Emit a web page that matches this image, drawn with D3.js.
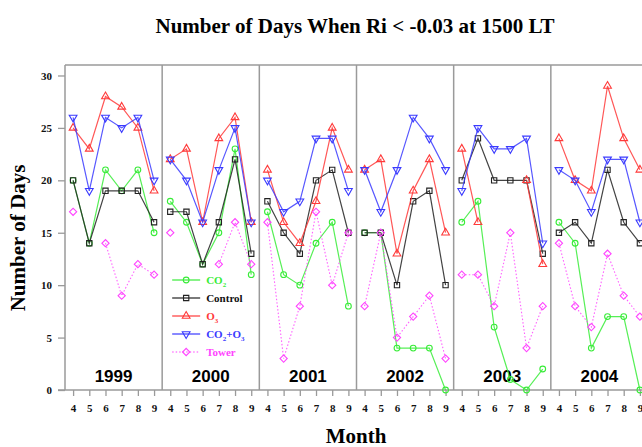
<!DOCTYPE html>
<html>
<head>
<meta charset="utf-8">
<script src="https://cdn.jsdelivr.net/npm/d3@7"></script>
<style>
  body { margin: 0; background: #fff; }
  svg { display: block; }
</style>
</head>
<body>
<svg id="chart" width="642" height="447"></svg>
<script>
// data, one value per month (4..9) per year
const years = ["1999", "2000", "2001", "2002", "2003", "2004"];
const months = [4, 5, 6, 7, 8, 9];
const yTicks = [0, 5, 10, 15, 20, 25, 30];

const co2 = [
  [20, 14, 21, 19, 21, 15],
  [18, 16, 12, 15, 23, 11],
  [17, 11, 10, 14, 16, 8],
  [15, 15, 4, 4, 4, 0],
  [16, 18, 6, 1, 0, 2],
  [16, 14, 4, 7, 7, 0]
];
const control = [
  [20, 14, 19, 19, 19, 16],
  [17, 17, 12, 16, 22, 13],
  [18, 15, 13, 20, 21, 15],
  [15, 15, 10, 18, 19, 10],
  [20, 24, 20, 20, 20, 13],
  [15, 16, 14, 21, 16, 14]
];
const o3 = [
  [25, 23, 28, 27, 25, 19],
  [22, 23, 16, 24, 26, 16],
  [21, 16, 14, 18, 25, 21],
  [21, 22, 13, 19, 22, 15],
  [23, 16, null, null, 20, 12],
  [24, 20, 19, 29, 24, 21]
];
const co2o3 = [
  [26, 19, 26, 25, 26, 20],
  [22, 20, 16, 21, 25, 16],
  [20, 17, 18, 24, 24, 19],
  [21, 17, 21, 26, 24, 21],
  [19, 25, 23, 23, 24, 14],
  [21, 20, 17, 22, 22, 16]
];
const tower = [
  [17, null, 14, 9, 12, 11],
  [15, null, null, 12, 16, 12],
  [16, 3, 8, 17, 10, 15],
  [8, 15, 5, 7, 9, 3],
  [11, 11, 8, 15, 4, 8],
  [14, 8, 6, 13, 9, 7]
];

const series = [
  { key: "co2", label: ["CO", "2", ""], values: co2, color: "#38ec38", symbol: d3.symbolCircle, size: 26, dash: null, rot: 0 },
  { key: "control", label: ["Control"], values: control, color: "#222", symbol: d3.symbolSquare, size: 28, dash: null, rot: 0 },
  { key: "o3", label: ["O", "3", ""], values: o3, color: "#ff3a3a", symbol: d3.symbolTriangle, size: 26, dash: null, rot: 0 },
  { key: "co2o3", label: ["CO", "2", "+O", "3"], values: co2o3, color: "#3a3aff", symbol: d3.symbolTriangle, size: 26, dash: null, rot: 180 },
  { key: "tower", label: ["Tower"], values: tower, color: "#ff44ff", symbol: d3.symbolSquare, size: 26, dash: "1.5,2", rot: 45 }
];

const margin = { top: 65, bottom: 390, left: 65, right: 648 };
const svg = d3.select("#chart");

const xYear = d3.scaleBand().domain(years).range([margin.left, margin.right]);
const xMonth = d3.scaleLinear().domain([3.5, 9.5]).range([0, xYear.bandwidth()]);
const y = d3.scaleLinear().domain([0, 31]).range([margin.bottom, margin.top]);

const gridColor = "#9a9a9a";
const serif = "Liberation Serif";

// title
svg.append("text")
  .attr("x", 355).attr("y", 33)
  .attr("text-anchor", "middle")
  .style("font-family", serif)
  .style("font-weight", "bold")
  .style("font-size", "21px")
  .text("Number of Days When Ri < -0.03 at 1500 LT");

// axis titles
svg.append("text")
  .attr("transform", "translate(25,238) rotate(-90)")
  .attr("text-anchor", "middle")
  .style("font-family", serif)
  .style("font-weight", "bold")
  .style("font-size", "21px")
  .text("Number of Days");

svg.append("text")
  .attr("x", 356).attr("y", 443)
  .attr("text-anchor", "middle")
  .style("font-family", serif)
  .style("font-weight", "bold")
  .style("font-size", "21px")
  .text("Month");

// y axis
const yAxis = svg.append("g")
  .attr("transform", `translate(${margin.left},0)`)
  .call(d3.axisLeft(y).tickValues(yTicks).tickSize(7).tickSizeOuter(0));
yAxis.select(".domain").remove();
yAxis.selectAll(".tick line").attr("stroke", gridColor).attr("stroke-width", 1.3);
yAxis.selectAll(".tick text")
  .attr("x", -13)
  .style("font-family", serif)
  .style("font-weight", "bold")
  .style("font-size", "11px")
  .attr("fill", "#111");

// panel frames
svg.append("line")
  .attr("x1", margin.left).attr("x2", margin.right)
  .attr("y1", margin.top).attr("y2", margin.top)
  .attr("stroke", gridColor).attr("stroke-width", 1.5);
svg.append("line")
  .attr("x1", margin.left - 7).attr("x2", margin.right)
  .attr("y1", margin.bottom).attr("y2", margin.bottom)
  .attr("stroke", gridColor).attr("stroke-width", 1.5);
svg.selectAll(".sep")
  .data(years.concat(["end"]))
  .enter()
  .append("line")
  .attr("class", "sep")
  .attr("x1", (d, i) => margin.left + i * xYear.bandwidth())
  .attr("x2", (d, i) => margin.left + i * xYear.bandwidth())
  .attr("y1", margin.top).attr("y2", margin.bottom)
  .attr("stroke", gridColor).attr("stroke-width", 1.5);

// panels
years.forEach((yr, yi) => {
  const g = svg.append("g").attr("transform", `translate(${xYear(yr)},0)`);

  const xa = g.append("g")
    .attr("transform", `translate(0,${margin.bottom})`)
    .call(d3.axisBottom(xMonth).tickValues(months).tickFormat(d3.format("d"))
      .tickSize(6).tickSizeOuter(0));
  xa.select(".domain").remove();
  xa.selectAll(".tick line").attr("stroke", gridColor).attr("stroke-width", 1.3);
  xa.selectAll(".tick text")
    .attr("y", 14)
    .style("font-family", serif)
    .style("font-weight", "bold")
    .style("font-size", "11px")
    .attr("fill", "#111");

  g.append("text")
    .attr("x", xYear.bandwidth() / 2).attr("y", 382)
    .attr("text-anchor", "middle")
    .style("font-family", "Liberation Sans")
    .style("font-weight", "bold")
    .style("font-size", "17px")
    .text(yr);

  series.forEach(s => {
    const pts = months.map((m, i) => ({ m: m, v: s.values[yi][i] }));
    const line = d3.line()
      .defined(d => d.v !== null)
      .x(d => xMonth(d.m))
      .y(d => y(d.v));
    g.append("path")
      .datum(pts)
      .attr("d", line)
      .attr("fill", "none")
      .attr("stroke", s.color)
      .attr("stroke-width", s.dash ? 1.1 : 1.2)
      .attr("stroke-dasharray", s.dash)
      .attr("opacity", 0.85);
    g.selectAll(".pt-" + s.key)
      .data(pts.filter(d => d.v !== null))
      .enter()
      .append("path")
      .attr("class", "pt-" + s.key)
      .attr("d", d3.symbol().type(s.symbol).size(s.size))
      .attr("transform", d => `translate(${xMonth(d.m)},${y(d.v)}) rotate(${s.rot})`)
      .attr("fill", "none")
      .attr("stroke", s.color)
      .attr("stroke-width", 1.1);
  });
});

// legend inside the 2000 panel
const legend = svg.append("g").attr("transform", `translate(${xYear("2000")},0)`);
const legY = d3.scalePoint().domain(series.map(s => s.key)).range([280, 352]);
series.forEach(s => {
  const ly = legY(s.key);
  legend.append("line")
    .attr("x1", 10).attr("x2", 38)
    .attr("y1", ly).attr("y2", ly)
    .attr("stroke", s.color).attr("stroke-width", 1.2)
    .attr("stroke-dasharray", s.dash);
  legend.append("path")
    .attr("d", d3.symbol().type(s.symbol).size(s.size))
    .attr("transform", `translate(24,${ly}) rotate(${s.rot})`)
    .attr("fill", "none")
    .attr("stroke", s.color)
    .attr("stroke-width", 1.1);
  const t = legend.append("text")
    .attr("x", 44).attr("y", ly + 4)
    .style("font-family", serif)
    .style("font-weight", "bold")
    .style("font-size", "11px")
    .attr("fill", s.key === "control" ? "#111" : s.color);
  s.label.forEach((part, i) => {
    if (!part) return;
    const sp = t.append("tspan").text(part);
    if (i % 2 === 1) {
      sp.style("font-size", "7px").attr("dy", 3);
    } else if (i > 0) {
      sp.attr("dy", -3);
    }
  });
});
</script>
</body>
</html>
